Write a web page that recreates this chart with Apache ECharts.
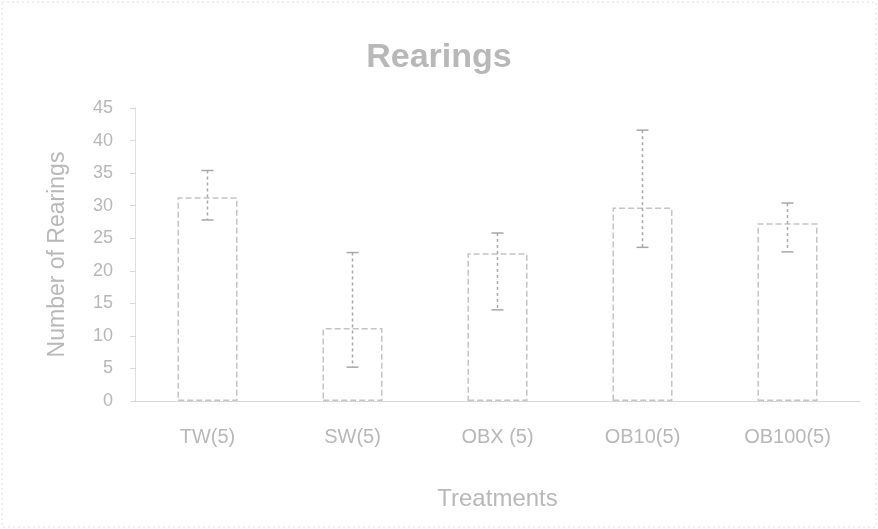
<!DOCTYPE html>
<html>
<head>
<meta charset="utf-8">
<script src="https://cdn.jsdelivr.net/npm/echarts@6/dist/echarts.min.js"></script>
<style>
  html, body { margin: 0; padding: 0; background: #fff; }
  #chart { width: 878px; height: 529px; }
</style>
</head>
<body>
<div id="chart"></div>
<script>
// values
var categories = ['TW(5)', 'SW(5)', 'OBX (5)', 'OB10(5)', 'OB100(5)'];
var means = [31.3, 11.2, 22.7, 29.7, 27.3];
var errLow = [27.8, 5.2, 14.0, 23.6, 22.9];
var errHigh = [35.4, 22.8, 25.8, 41.6, 30.4];
var yTicks = [0, 5, 10, 15, 20, 25, 30, 35, 40, 45];

var faded = '#b8b8b8';

var errData = [];
for (var i = 0; i < categories.length; i++) {
	errData.push([i, errLow[i], errHigh[i]]);
}

var myChart = echarts.init(document.getElementById('chart'));
var option = {
	backgroundColor: '#fff',
	animation: false,
	title: {
		text: 'Rearings',
		left: 'center',
		top: 36,
		textStyle: {
			color: faded,
			fontSize: 34,
			fontWeight: 'bold',
			fontFamily: 'Liberation Sans'
		}
	},
	grid: {
		left: 135,
		right: 18,
		top: 108,
		bottom: 128
	},
	xAxis: {
		type: 'category',
		data: categories,
		name: 'Treatments',
		nameLocation: 'middle',
		nameGap: 86,
		nameTextStyle: { color: faded, fontSize: 24, fontFamily: 'Liberation Sans' },
		axisLine: { lineStyle: { color: '#d0d0d0', type: 'dotted' } },
		axisTick: { show: false },
		axisLabel: { color: faded, fontSize: 20, margin: 26, fontFamily: 'Liberation Sans' }
	},
	yAxis: {
		type: 'value',
		min: yTicks[0],
		max: yTicks[yTicks.length - 1],
		interval: 5,
		name: 'Number of Rearings',
		nameLocation: 'middle',
		nameGap: 66,
		nameTextStyle: { color: faded, fontSize: 23, fontFamily: 'Liberation Sans' },
		axisLine: { show: true, lineStyle: { color: '#d8d8d8', type: 'dotted' } },
		axisTick: { show: true, lineStyle: { color: '#d8d8d8' } },
		splitLine: { show: false },
		axisLabel: { color: faded, fontSize: 18, margin: 22, fontFamily: 'Liberation Sans' }
	},
	series: [{
		type: 'bar',
		data: means,
		barWidth: 60,
		itemStyle: {
			color: '#fff',
			borderColor: '#c4c4c4',
			borderWidth: 1.5,
			borderType: 'dashed'
		}
	}, {
		type: 'custom',
		data: errData,
		z: 10,
		renderItem: function (params, api) {
			var x = api.value(0);
			var lo = api.coord([x, api.value(1)]);
			var hi = api.coord([x, api.value(2)]);
			var w = 6;
			var st = { stroke: '#a8a8a8', lineWidth: 1.5, lineDash: [3, 3] };
			return {
				type: 'group',
				children: [
					{ type: 'line', shape: { x1: hi[0], y1: hi[1], x2: lo[0], y2: lo[1] }, style: st },
					{ type: 'line', shape: { x1: hi[0] - w, y1: hi[1], x2: hi[0] + w, y2: hi[1] }, style: { stroke: '#a8a8a8', lineWidth: 1.5 } },
					{ type: 'line', shape: { x1: lo[0] - w, y1: lo[1], x2: lo[0] + w, y2: lo[1] }, style: { stroke: '#a8a8a8', lineWidth: 1.5 } }
				]
			};
		}
	}],
	graphic: [{
		type: 'rect',
		shape: { x: 2, y: 2, width: 874, height: 525 },
		style: { fill: 'none', stroke: '#e0e0e0', lineWidth: 1, lineDash: [2, 3] }
	}]
};
myChart.setOption(option);
</script>
</body>
</html>
